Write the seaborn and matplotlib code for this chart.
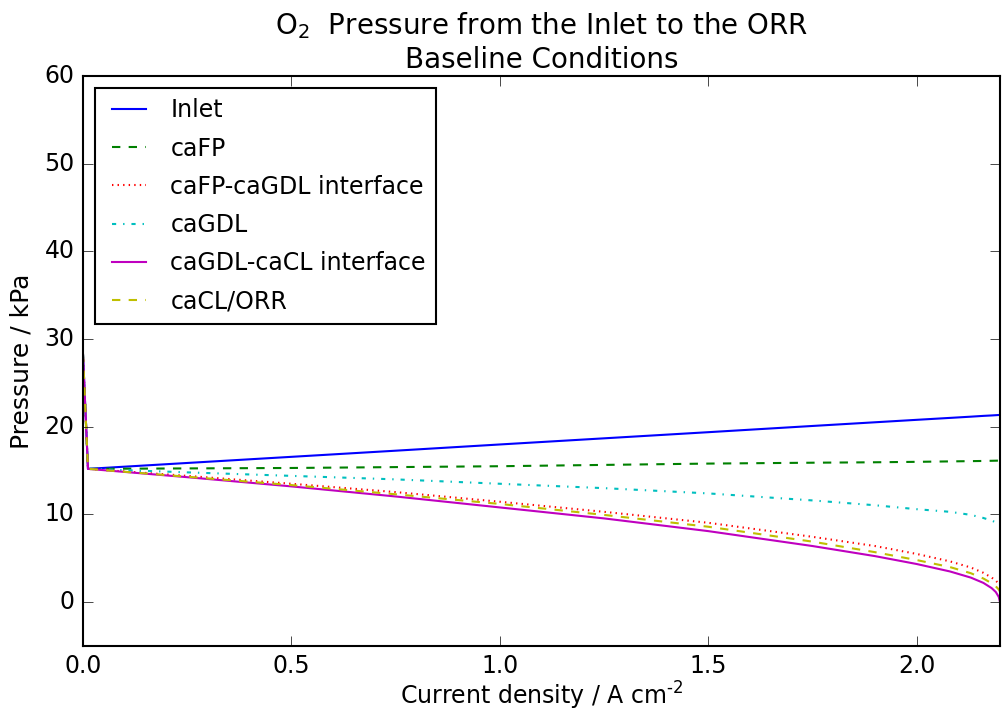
import matplotlib
matplotlib.use("Agg")
import matplotlib.pyplot as plt
import seaborn as sns

# Current density sample points (A cm^-2)
current = [0.0, 0.012, 0.25, 0.5, 0.75, 1.0, 1.25, 1.5, 1.75, 1.9, 2.0,
           2.08, 2.13, 2.16, 2.18, 2.19, 2.197, 2.2]

# O2 partial pressure (kPa) at each location along the cathode path
p_inlet = [28.3, 15.2, 15.87, 16.57, 17.27, 17.98, 18.68, 19.38, 20.09, 20.51, 20.79,
           21.01, 21.15, 21.24, 21.29, 21.32, 21.34, 21.35]
p_cafp = [28.3, 15.2, 15.25, 15.3, 15.4, 15.5, 15.65, 15.8, 15.9, 15.95, 16.0,
          16.05, 16.08, 16.1, 16.12, 16.13, 16.14, 16.15]
p_cafp_gdl = [28.3, 15.2, 14.4, 13.5, 12.55, 11.45, 10.3, 9.05, 7.45, 6.4, 5.5,
              4.65, 3.95, 3.35, 2.8, 2.45, 2.1, 1.9]
p_cagdl = [28.3, 15.2, 14.8, 14.4, 14.0, 13.5, 13.0, 12.4, 11.6, 11.05, 10.6,
           10.3, 9.95, 9.6, 9.3, 9.1, 8.95, 8.8]
p_gdl_cl = [28.3, 15.2, 14.25, 13.2, 12.05, 10.8, 9.55, 8.1, 6.4, 5.25, 4.35,
            3.5, 2.8, 2.2, 1.6, 1.15, 0.6, 0.0]
p_cacl = [28.3, 15.2, 14.3, 13.35, 12.3, 11.2, 9.95, 8.6, 6.9, 5.7, 4.8,
          4.0, 3.3, 2.7, 2.15, 1.8, 1.45, 1.2]

series = [
    ("Inlet", p_inlet, "b", "-"),
    ("caFP", p_cafp, "g", "--"),
    ("caFP-caGDL interface", p_cafp_gdl, "r", ":"),
    ("caGDL", p_cagdl, "c", "-."),
    ("caGDL-caCL interface", p_gdl_cl, "m", "-"),
    ("caCL/ORR", p_cacl, "y", "--"),
]

plt.style.use("classic")
plt.rcParams["mathtext.fontset"] = "dejavusans"
plt.rcParams["font.family"] = ["DejaVu Sans"]

fig = plt.figure(figsize=(10.02, 7.12), dpi=100)
ax = fig.add_axes([0.0828, 0.0927, 0.9152, 0.8006])

for name, vals, col, ls in series:
    sns.lineplot(x=current, y=vals, ax=ax, color=col, linestyle=ls,
                 linewidth=1.5, label=name, sort=False, estimator=None)

ax.set_xlim(0, 2.2)
ax.set_ylim(-5, 60)
ax.set_xticks([0.0, 0.5, 1.0, 1.5, 2.0])
ax.set_yticks([0, 10, 20, 30, 40, 50, 60])
ax.tick_params(labelsize=17, direction="in", length=7, top=True, right=True, pad=6)

ax.set_xlabel("Current density / A cm$^{\\text{-2}}$", fontsize=17, labelpad=1)
ax.set_ylabel("Pressure / kPa", fontsize=18, labelpad=8)
ax.set_title("O$_2$  Pressure from the Inlet to the ORR\nBaseline Conditions",
             fontsize=20, linespacing=1.2, pad=6)

leg = ax.legend(loc="upper left", fontsize=17, frameon=True, fancybox=False,
                handlelength=2.0, labelspacing=0.6, borderpad=0.45,
                handletextpad=0.75, borderaxespad=0.5)
leg.get_frame().set_edgecolor("black")
leg.get_frame().set_linewidth(1.5)

for s in ax.spines.values():
    s.set_linewidth(1.5)

fig.savefig("out.png", dpi=100, facecolor="white")
